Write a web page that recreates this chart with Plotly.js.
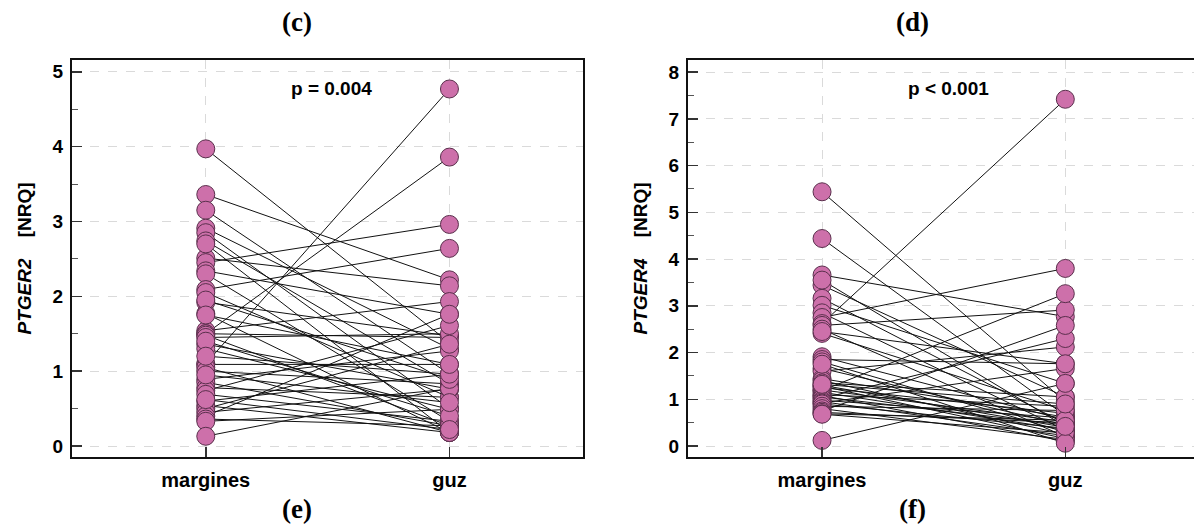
<!DOCTYPE html>
<html>
<head>
<meta charset="utf-8">
<script src="https://cdn.plot.ly/plotly-3.0.1.min.js"></script>
<style>html,body{margin:0;padding:0;background:#fff;}#chart{width:1194px;height:527px;}</style>
</head>
<body>
<div id="chart"></div>
<script>
// ---- data ----
var categories = ['margines', 'guz'];

// panel (e): PTGER2 [NRQ], paired values (margines -> guz)
var ptger2Margines = [3.97, 3.36, 3.15, 2.91, 2.85, 2.74, 2.51, 2.45, 2.34, 2.30,
                      2.09, 2.05, 1.92, 1.77, 1.54, 1.50, 1.50, 1.48, 1.45, 1.36,
                      1.30, 1.10, 1.09, 1.05, 1.00, 0.89, 0.85, 0.78, 0.74, 0.69,
                      0.60, 0.54, 0.50, 0.45, 0.40, 0.36, 0.33, 0.13, 2.70, 1.95,
                      1.40, 0.95, 0.62, 1.20, 1.75];
var ptger2Guz =      [1.38, 2.22, 0.96, 1.30, 0.50, 0.83, 2.14, 2.96, 1.76, 0.33,
                      2.64, 0.65, 1.47, 0.18, 1.93, 3.86, 1.45, 0.27, 1.50, 0.76,
                      0.49, 4.77, 1.09, 0.18, 0.83, 1.27, 0.27, 0.65, 1.61, 0.33,
                      0.96, 0.18, 1.36, 0.76, 1.76, 0.27, 0.49, 0.77, 0.18, 0.89,
                      0.40, 0.58, 0.22, 0.96, 1.09];

// panel (f): PTGER4 [NRQ], paired values (margines -> guz)
var ptger4Margines = [5.44, 4.44, 3.66, 3.44, 3.16, 3.01, 2.85, 2.75, 2.62, 2.58,
                      2.41, 2.50, 1.91, 1.85, 1.80, 1.66, 1.60, 1.44, 1.40, 1.35,
                      1.30, 1.28, 1.25, 1.20, 1.19, 1.15, 1.10, 1.08, 1.05, 1.02,
                      0.98, 0.95, 0.92, 0.90, 0.85, 0.80, 0.75, 0.72, 0.69, 0.68,
                      0.12, 1.75, 2.45, 1.32, 3.55];
var ptger4Guz =      [0.95, 0.65, 2.77, 1.05, 0.48, 1.34, 0.34, 3.80, 7.42, 2.91,
                      0.76, 0.20, 0.56, 1.76, 0.30, 0.45, 2.12, 0.62, 0.25, 1.05,
                      0.40, 0.16, 0.70, 0.52, 3.26, 0.35, 0.85, 0.10, 0.45, 2.30,
                      0.60, 0.22, 1.66, 0.38, 0.76, 0.14, 2.58, 0.50, 0.55, 0.28,
                      1.34, 0.06, 1.76, 0.90, 0.42];

var panelLabels = ['(c)', '(d)', '(e)', '(f)'];
var pTexts = ['p = 0.004', 'p < 0.001'];
var yTitles = ['<i>PTGER2</i>\u00a0\u00a0\u00a0\u00a0[NRQ]', '<i>PTGER4</i>\u00a0\u00a0\u00a0\u00a0[NRQ]'];

// ---- styles ----
var W = 1194, H = 527;
var pink = '#cd70aa';
var sans = 'Arial, "Liberation Sans", sans-serif';
var markerStyle = {size: 18, color: pink, line: {color: '#5a2f4c', width: 1}};
var xTickFont = {family: sans, size: 20, color: '#000', weight: 'bold'};
var yTickFont = {family: sans, size: 19, color: '#000', weight: 'bold'};

function pairTraces(m, g, xa, ya) {
  var lx = [], ly = [];
  for (var i = 0; i < m.length; i++) {
    lx.push(categories[0], categories[1], null);
    ly.push(m[i], g[i], null);
  }
  var mx = m.map(function () { return categories[0]; });
  var gx = g.map(function () { return categories[1]; });
  return [
    {x: lx, y: ly, xaxis: xa, yaxis: ya, type: 'scatter', mode: 'lines',
     line: {color: '#111', width: 1}, connectgaps: false, hoverinfo: 'skip', showlegend: false},
    {x: mx, y: m, xaxis: xa, yaxis: ya, type: 'scatter', mode: 'markers',
     marker: markerStyle, showlegend: false},
    {x: gx, y: g, xaxis: xa, yaxis: ya, type: 'scatter', mode: 'markers',
     marker: markerStyle, showlegend: false}
  ];
}

var data = pairTraces(ptger2Margines, ptger2Guz, 'x', 'y')
  .concat(pairTraces(ptger4Margines, ptger4Guz, 'x2', 'y2'));

function xAxis(domain, range, anchor) {
  return {
    domain: domain, range: range, anchor: anchor, type: 'category',
    categoryorder: 'array', categoryarray: categories,
    showline: true, linecolor: '#111', linewidth: 2, mirror: true,
    ticks: 'inside', ticklen: 10, tickwidth: 1.5, tickcolor: '#333',
    showgrid: true, gridcolor: '#dadada', griddash: 'dash', gridwidth: 1,
    zeroline: false, tickfont: xTickFont, ticklabelstandoff: 4, fixedrange: true
  };
}
function yAxis(domain, range, anchor, title, mirror) {
  return {
    domain: domain, range: range, anchor: anchor, dtick: 1, tick0: 0,
    showline: true, linecolor: '#111', linewidth: 2, mirror: mirror,
    ticks: 'inside', ticklen: 10, tickwidth: 1.5, tickcolor: '#333',
    minor: {dtick: 0.5, tick0: 0, ticks: 'inside', ticklen: 6, tickwidth: 1, tickcolor: '#555', showgrid: false},
    showgrid: true, gridcolor: '#dadada', griddash: 'dash', gridwidth: 1,
    zeroline: false, tickfont: yTickFont, ticklabelstandoff: 3,
    title: {text: title, font: {family: sans, size: 19, color: '#000', weight: 'bold'}, standoff: 16},
    fixedrange: true
  };
}

var yDom = [(H - 457) / H, (H - 60) / H];
var pFont = {family: sans, size: 19, color: '#000', weight: 'bold'};
var layout = {
  width: W, height: H,
  margin: {l: 0, r: 0, t: 0, b: 0},
  paper_bgcolor: '#fff', plot_bgcolor: '#fff',
  showlegend: false,
  xaxis: xAxis([72 / W, 583 / W], [-0.549, 1.548], 'y'),
  yaxis: yAxis(yDom, [-0.147, 5.157], 'x', yTitles[0], true),
  xaxis2: xAxis([688 / W, 1], [-0.551, 1.529], 'y2'),
  yaxis2: yAxis(yDom, [-0.235, 8.26], 'x2', yTitles[1], false),
  annotations: [
    {text: pTexts[0], xref: 'paper', yref: 'paper', x: 331 / W, y: (H - 89) / H, showarrow: false,
     xanchor: 'center', yanchor: 'middle', font: pFont},
    {text: pTexts[1], xref: 'paper', yref: 'paper', x: 948 / W, y: (H - 88) / H, showarrow: false,
     xanchor: 'center', yanchor: 'middle', font: pFont}
  ]
};
var labelPos = [[297, 22], [912, 22], [297, 509], [912, 509]];
panelLabels.forEach(function (t, i) {
  layout.annotations.push({text: t, xref: 'paper', yref: 'paper', x: labelPos[i][0] / W, y: (H - labelPos[i][1]) / H,
    xanchor: 'center', yanchor: 'middle', showarrow: false,
    font: {family: '"Liberation Serif", "DejaVu Serif", serif', size: 27, color: '#000', weight: 'bold'}});
});

Plotly.newPlot('chart', data, layout, {displayModeBar: false, staticPlot: true});
</script>
</body>
</html>
